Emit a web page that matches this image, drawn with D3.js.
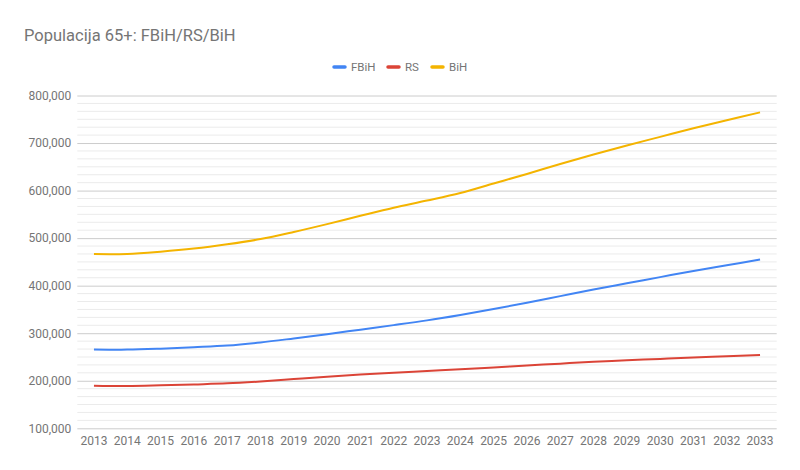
<!DOCTYPE html>
<html>
<head>
<meta charset="utf-8">
<script src="https://cdn.jsdelivr.net/npm/d3@7"></script>
<style>
  html, body { margin: 0; padding: 0; background: #fff; }
  svg { display: block; font-family: Roboto, "Noto Sans", Arial, sans-serif; }
</style>
</head>
<body>
<svg id="chart" width="800" height="470"></svg>
<script>
const title = "Populacija 65+: FBiH/RS/BiH";
const years = ["2013","2014","2015","2016","2017","2018","2019","2020","2021","2022","2023",
               "2024","2025","2026","2027","2028","2029","2030","2031","2032","2033"];
const seriesNames = ["FBiH", "RS", "BiH"];
const fbih = [266000, 265500, 267500, 270500, 274000, 280500, 289000, 298000, 307500, 317000, 327000,
              338500, 351000, 364000, 378000, 392000, 405000, 418000, 431000, 443000, 455000];
const rs   = [189500, 188800, 190300, 192300, 194500, 198500, 203500, 208500, 213000, 217000, 220500,
              224000, 228000, 232000, 236000, 240000, 243000, 246000, 249000, 251500, 254000];
const bih  = [466500, 466800, 471500, 478000, 487000, 498000, 513000, 529500, 547000, 564000, 579000,
              595000, 615000, 635000, 656000, 676000, 695000, 713000, 731000, 748000, 764500];
const yTicks = [100000, 200000, 300000, 400000, 500000, 600000, 700000, 800000];
const colors = ["#4285F4", "#DB4437", "#F4B400"];

const svg = d3.select("#chart");
const x = d3.scaleBand().domain(years).range([77.3, 776.7]);
const y = d3.scaleLinear().domain([100000, 800000]).range([428.3, 95.5]);

// title
svg.append("text").attr("x", 24).attr("y", 41)
  .attr("font-size", 16.5).attr("fill", "#757575").text(title);

// minor gridlines
const minor = [];
for (let i = 0; i < yTicks.length - 1; i++) {
  for (let k = 1; k < 6; k++) minor.push(yTicks[i] + k * (yTicks[i+1] - yTicks[i]) / 6);
}
svg.append("g").selectAll("line").data(minor).join("line")
  .attr("x1", 77.3).attr("x2", 776.7)
  .attr("y1", d => y(d)).attr("y2", d => y(d))
  .attr("stroke", "#ebebeb").attr("stroke-width", 1);

// major gridlines + labels via axis
const yAxis = d3.axisLeft(y).tickValues(yTicks).tickFormat(d3.format(",")).tickSize(-(776.7 - 77.3)).tickPadding(6);
const gy = svg.append("g").attr("transform", "translate(77.3,0)").call(yAxis);
gy.select(".domain").remove();
gy.selectAll(".tick line").attr("stroke", "#cccccc");
gy.selectAll(".tick text").attr("fill", "#757575").attr("font-size", 12)
  .attr("font-family", "Roboto, sans-serif");

// x axis labels
const xAxis = d3.axisBottom(x).tickSize(0).tickPadding(8);
const gx = svg.append("g").attr("transform", "translate(0,428.3)").call(xAxis);
gx.select(".domain").remove();
gx.selectAll(".tick text").attr("fill", "#757575").attr("font-size", 12)
  .attr("font-family", "Roboto, sans-serif");

// lines
const allSeries = [fbih, rs, bih];
const line = d3.line()
  .x((d, i) => x(years[i]) + x.bandwidth() / 2)
  .y(d => y(d))
  .curve(d3.curveCatmullRom.alpha(0.5));
svg.append("g").selectAll("path").data(allSeries).join("path")
  .attr("d", d => line(d))
  .attr("fill", "none")
  .attr("stroke", (d, i) => colors[i])
  .attr("stroke-width", 2);

// legend
const legendX = [334, 388, 432];
const lg = svg.append("g");
seriesNames.forEach((name, i) => {
  lg.append("line").attr("x1", legendX[i]).attr("x2", legendX[i] + 11)
    .attr("y1", 67).attr("y2", 67)
    .attr("stroke", colors[i]).attr("stroke-width", 3.5).attr("stroke-linecap", "round");
  lg.append("text").attr("x", legendX[i] + 17).attr("y", 71)
    .attr("font-size", 11.5).attr("fill", "#757575").text(name);
});
</script>
</body>
</html>
